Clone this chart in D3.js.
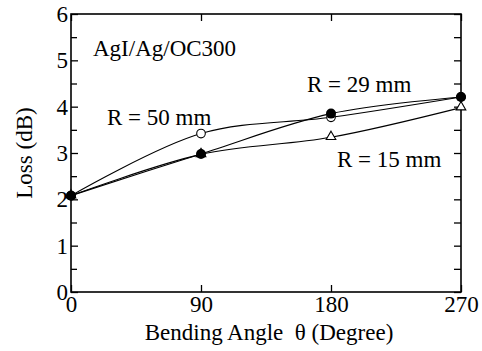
<!DOCTYPE html>
<html>
<head>
<meta charset="utf-8">
<script src="https://cdn.jsdelivr.net/npm/d3@7"></script>
<style>
  html, body { margin: 0; padding: 0; background: #fff; }
  svg text { font-family: "Liberation Serif", "Times New Roman", serif; fill: #000; }
</style>
</head>
<body>
<svg id="chart" width="482" height="351"></svg>
<script>
const angles = [0, 90, 180, 270];
const r29 = [2.08, 2.98, 3.85, 4.21];   // filled circles
const r50 = [2.08, 3.42, 3.77, 4.21];   // open circles
const r15 = [2.08, 2.97, 3.34, 3.98];   // open triangles
const xTicks = [0, 90, 180, 270];
const yTicks = [0, 1, 2, 3, 4, 5, 6];
const yMinorTicks = [0.5, 1.5, 2.5, 3.5, 4.5, 5.5];

const svg = d3.select("#chart");
const mL = 71, mR = 461, mT = 14, mB = 292;
const x = d3.scaleLinear().domain([0, 270]).range([mL, mR]);
const y = d3.scaleLinear().domain([0, 6]).range([mB, mT]);
const fs = 23;

function styleAxis(g) {
  g.selectAll("path.domain").remove();
  g.selectAll(".tick line").attr("stroke", "#000").attr("stroke-width", 1.3);
  g.selectAll("text").attr("font-size", fs).attr("fill", "#000");
}

svg.append("g").attr("transform", `translate(${mL},0)`)
  .call(d3.axisLeft(y).tickValues(yTicks).tickFormat(d3.format("d")).tickSizeInner(-7).tickSizeOuter(0).tickPadding(3))
  .call(styleAxis);
svg.append("g").attr("transform", `translate(${mL},0)`)
  .call(d3.axisLeft(y).tickValues(yMinorTicks).tickFormat("").tickSizeInner(-6).tickSizeOuter(0))
  .call(styleAxis);
svg.append("g").attr("transform", `translate(${mR},0)`)
  .call(d3.axisRight(y).tickValues(yTicks.concat(yMinorTicks)).tickFormat("").tickSizeInner(-7).tickSizeOuter(0))
  .call(styleAxis);
svg.append("g").attr("transform", `translate(0,${mB})`)
  .call(d3.axisBottom(x).tickValues(xTicks).tickFormat(d3.format("d")).tickSizeInner(-7).tickSizeOuter(0).tickPadding(4))
  .call(styleAxis);
svg.append("g").attr("transform", `translate(0,${mT})`)
  .call(d3.axisTop(x).tickValues(xTicks).tickFormat("").tickSizeInner(-7).tickSizeOuter(0))
  .call(styleAxis);

svg.append("rect").attr("x", mL).attr("y", mT).attr("width", mR - mL).attr("height", mB - mT)
  .attr("fill", "none").attr("stroke", "#000").attr("stroke-width", 1.6);

const line = d3.line().x((d, i) => x(angles[i])).y(d => y(d)).curve(d3.curveCatmullRom.alpha(0.5));

[r15, r50, r29].forEach(s => {
  svg.append("path").attr("d", line(s)).attr("fill", "none").attr("stroke", "#000").attr("stroke-width", 1.1);
});

svg.append("g").selectAll("path").data(r15).join("path")
  .attr("d", d3.symbol().type(d3.symbolTriangle).size(40))
  .attr("transform", (d, i) => `translate(${x(angles[i])},${y(d) - 0.5})`)
  .attr("fill", "#fff").attr("stroke", "#000").attr("stroke-width", 1.1);
svg.append("g").selectAll("circle").data(r50).join("circle")
  .attr("cx", (d, i) => x(angles[i])).attr("cy", d => y(d)).attr("r", 4.3)
  .attr("fill", "#fff").attr("stroke", "#000").attr("stroke-width", 1.1);
svg.append("g").selectAll("circle").data(r29).join("circle")
  .attr("cx", (d, i) => x(angles[i])).attr("cy", d => y(d)).attr("r", 5)
  .attr("fill", "#000");

const ann = [
  { t: "AgI/Ag/OC300", x: 93, y: 56 },
  { t: "R = 50 mm", x: 107, y: 125 },
  { t: "R = 29 mm", x: 307, y: 92 },
  { t: "R = 15 mm", x: 337, y: 167 }
];
svg.append("g").selectAll("text").data(ann).join("text")
  .attr("x", d => d.x).attr("y", d => d.y).attr("font-size", fs).text(d => d.t);

svg.append("text").attr("x", 269).attr("y", 340).attr("text-anchor", "middle")
  .attr("font-size", fs).text("Bending Angle\u00A0\u00A0θ (Degree)");
svg.append("text").attr("transform", `translate(32,${(mT + mB) / 2}) rotate(-90)`)
  .attr("text-anchor", "middle").attr("font-size", fs).text("Loss (dB)");
</script>
</body>
</html>
